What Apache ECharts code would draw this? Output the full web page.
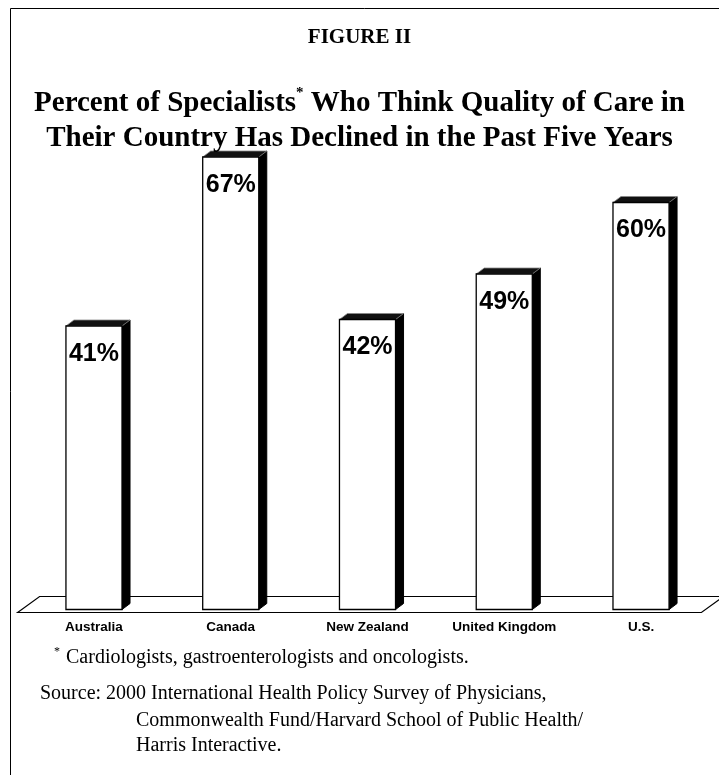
<!DOCTYPE html>
<html>
<head>
<meta charset="utf-8">
<script src="https://cdn.jsdelivr.net/npm/echarts@6/dist/echarts.min.js"></script>
<style>
  html, body { margin: 0; padding: 0; background: #fff; }
  #chart { width: 719px; height: 775px; }
</style>
</head>
<body>
<div id="chart"></div>
<script>
// data
const categories = ["Australia", "Canada", "New Zealand", "United Kingdom", "U.S."];
const values = [41, 67, 42, 49, 60];
const figureLabel = "FIGURE II";
const titleLines = [
  "Percent of Specialists{sup|*} Who Think Quality of Care in",
  "Their Country Has Declined in the Past Five Years"
];
const footnote = "Cardiologists, gastroenterologists and oncologists.";
const sourceLines = [
  "Source: 2000 International Health Policy Survey of Physicians,",
  "Commonwealth Fund/Harvard School of Public Health/",
  "Harris Interactive."
];

// 3d look
const DX = 8;          // side depth
const DY = 6;          // top depth
const FRONT_DROP = 17; // front face goes below the zero line
const BAR_RATIO = 0.41;

const serif = '"Liberation Serif", "Times New Roman", serif';
const sans = '"Liberation Sans", Arial, sans-serif';

const chart = echarts.init(document.getElementById("chart"));

function renderFloor(params, api) {
  const cs = params.coordSys;
  const y0 = cs.y + cs.height;
  const left = cs.x, right = cs.x + cs.width;
  return {
    type: "polygon",
    shape: {
      points: [
        [left - 8, y0 + 20],
        [left + 14, y0 + 4],
        [right + 14, y0 + 4],
        [right - 8, y0 + 20]
      ]
    },
    style: { fill: "#fff", stroke: "#000", lineWidth: 1.2 }
  };
}

function renderBar(params, api) {
  const v = api.value(1);
  const top = api.coord([api.value(0), v]);
  const base = api.coord([api.value(0), 0]);
  const w = api.size([1, 0])[0] * BAR_RATIO;
  const x0 = top[0] - w / 2, x1 = top[0] + w / 2;
  const y0 = top[1], y1 = base[1] + FRONT_DROP;
  return {
    type: "group",
    children: [
      {
        type: "polygon",
        shape: { points: [[x1, y0], [x1 + DX, y0 - DY], [x1 + DX, y1 - DY], [x1, y1]] },
        style: { fill: "#000", stroke: "#000", lineWidth: 1 }
      },
      {
        type: "polygon",
        shape: { points: [[x0, y0], [x0 + DX, y0 - DY], [x1 + DX, y0 - DY], [x1, y0]] },
        style: { fill: "#111", stroke: "#888", lineWidth: 0.8 }
      },
      {
        type: "rect",
        shape: { x: x0, y: y0, width: w, height: y1 - y0 },
        style: { fill: "#fff", stroke: "#000", lineWidth: 1.3 }
      },
      {
        type: "text",
        style: {
          text: v + "%",
          x: top[0],
          y: y0 + 28,
          align: "center",
          verticalAlign: "middle",
          font: "bold 25px " + sans,
          fill: "#000"
        }
      }
    ]
  };
}

chart.setOption({
  animation: false,
  backgroundColor: "#fff",
  title: [
    {
      text: figureLabel,
      left: "center",
      top: 22,
      textStyle: { fontFamily: serif, fontWeight: "bold", fontSize: 21, color: "#000" }
    },
    {
      text: titleLines.join("\n"),
      left: "center",
      top: 81,
      textStyle: {
        fontFamily: serif, fontWeight: "bold", fontSize: 29, lineHeight: 35, color: "#000",
        rich: {
          sup: { fontFamily: serif, fontWeight: "bold", fontSize: 15, verticalAlign: "top", lineHeight: 35 }
        }
      }
    }
  ],
  grid: { left: 25.6, right: 9.6, top: 137.5, bottom: 182.5 },
  xAxis: {
    type: "category",
    data: categories,
    axisLine: { show: false },
    axisTick: { show: false },
    axisLabel: {
      margin: 28,
      interval: 0,
      fontFamily: sans,
      fontWeight: "bold",
      fontSize: 13.5,
      color: "#000"
    }
  },
  yAxis: {
    type: "value",
    min: 0,
    max: 70,
    show: false,
    splitLine: { show: false }
  },
  series: [
    {
      type: "custom",
      renderItem: renderFloor,
      data: [[0]],
      silent: true,
      z: 1
    },
    {
      type: "custom",
      renderItem: renderBar,
      data: values.map((v, i) => [i, v]),
      z: 2
    }
  ],
  graphic: [
    {
      type: "polyline",
      shape: { points: [[719, 8.5], [10.5, 8.5], [10.5, 775]] },
      style: { fill: null, stroke: "#000", lineWidth: 1 }
    },
    {
      type: "text",
      left: 54,
      top: 646,
      style: { text: "*", font: "12px " + serif, fill: "#000" }
    },
    {
      type: "text",
      left: 66,
      top: 648,
      style: { text: footnote, font: "20px " + serif, fill: "#000" }
    },
    {
      type: "text",
      left: 40,
      top: 684,
      style: { text: sourceLines[0], font: "20px " + serif, fill: "#000" }
    },
    {
      type: "text",
      left: 136,
      top: 711,
      style: { text: sourceLines[1], font: "20px " + serif, fill: "#000" }
    },
    {
      type: "text",
      left: 136,
      top: 736,
      style: { text: sourceLines[2], font: "20px " + serif, fill: "#000" }
    }
  ]
});
</script>
</body>
</html>
